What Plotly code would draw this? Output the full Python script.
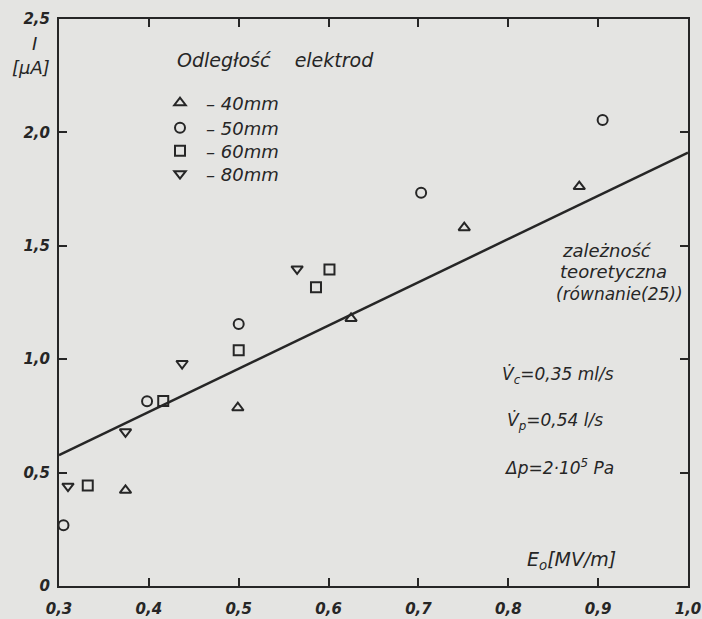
import plotly.graph_objects as go

# ---- data ----
x_40 = [0.374, 0.499, 0.625, 0.751, 0.879]
y_40 = [0.422, 0.786, 1.180, 1.580, 1.761]
x_50 = [0.305, 0.398, 0.500, 0.703, 0.905]
y_50 = [0.268, 0.815, 1.155, 1.734, 2.055]
x_60 = [0.332, 0.416, 0.500, 0.586, 0.601]
y_60 = [0.443, 0.816, 1.039, 1.317, 1.396]
x_80 = [0.310, 0.374, 0.437, 0.565]
y_80 = [0.440, 0.680, 0.981, 1.398]
x_theory = [0.3, 1.0]
y_theory = [0.577, 1.911]

series_names = ["– 40mm", "– 50mm", "– 60mm", "– 80mm"]
x_tick_vals = [0.3, 0.4, 0.5, 0.6, 0.7, 0.8, 0.9, 1.0]
x_tick_labels = ["0,3", "0,4", "0,5", "0,6", "0,7", "0,8", "0,9", "1,0"]
y_tick_vals = [0, 0.5, 1.0, 1.5, 2.0, 2.5]
y_tick_labels = ["0", "0,5", "1,0", "1,5", "2,0", "2,5"]

INK = "#262626"
BG = "#e4e4e2"
FONT = "DejaVu Sans"

W, H = 702, 619
L, R, T, B = 59, 14, 19, 33
pw, ph = W - L - R, H - T - B


def px(xp):
    return (xp - L) / pw


def py(yp):
    return (H - B - yp) / ph


fig = go.Figure()
fig.add_trace(go.Scatter(x=x_theory, y=y_theory, mode="lines",
                         line=dict(color=INK, width=2.5), showlegend=False))
symbols = ["triangle-up-open", "circle-open", "square-open", "triangle-down-open"]
legend_ids = ["legend", "legend2", "legend3", "legend4"]
for xs, ys, name, sym, lg in zip([x_40, x_50, x_60, x_80], [y_40, y_50, y_60, y_80],
                                 series_names, symbols, legend_ids):
    fig.add_trace(go.Scatter(x=xs, y=ys, mode="markers", name=name, legend=lg,
                             marker=dict(symbol=sym, size=10, color=INK,
                                         line=dict(color=INK, width=2))))

tickfont = dict(family=FONT, size=15, color=INK, weight="bold", style="italic")
fig.update_xaxes(range=[0.3, 1.0], tickvals=x_tick_vals, ticktext=x_tick_labels,
                 ticks="inside", ticklen=8, tickwidth=2, tickcolor=INK,
                 showline=True, linewidth=2, linecolor=INK, mirror="ticks",
                 showgrid=False, zeroline=False, tickfont=tickfont,
                 automargin=False, ticklabelstandoff=8)
fig.update_yaxes(range=[0, 2.5], tickvals=y_tick_vals, ticktext=y_tick_labels,
                 ticks="inside", ticklen=8, tickwidth=2, tickcolor=INK,
                 showline=True, linewidth=2, linecolor=INK, mirror="ticks",
                 showgrid=False, zeroline=False, tickfont=tickfont,
                 automargin=False, ticklabelstandoff=4)

afont = dict(family=FONT, size=14, color=INK, style="italic")
ann = []


def add(text, xp, yp, xanchor="left", size=14):
    f = dict(afont)
    f["size"] = size
    ann.append(dict(text=text, x=px(xp), y=py(yp), xref="paper", yref="paper",
                    xanchor=xanchor, yanchor="middle", showarrow=False, font=f))


add("I", 34, 43, "center", 18)
add("[μA]", 31, 67, "center", 18)
add("Odległość    elektrod", 175, 60, "left", 19)
add("zależność", 560, 250, "left", 18)
add("teoretyczna", 558, 271, "left", 18)
add("(równanie(25))", 554, 294, "left", 17)
add("V̇<sub>c</sub>=0,35 ml/s", 500, 375, "left", 17)
add("V̇<sub>p</sub>=0,54 l/s", 505, 421, "left", 17)
add("Δp=2·10<sup>5</sup> Pa", 502, 467, "left", 17)
add("E<sub>o</sub>[MV/m]", 525, 560, "left", 19)

legend_rows_y = [103, 128, 151, 174]
legend_style = dict(bgcolor="rgba(0,0,0,0)", itemwidth=42, xanchor="left", yanchor="middle",
                    font=dict(family=FONT, size=18, color=INK, style="italic"))
legends = {}
for lg, ry in zip(legend_ids, legend_rows_y):
    legends[lg] = dict(x=px(154), y=py(ry), **legend_style)

fig.update_layout(
    width=W, height=H, margin=dict(l=L, r=R, t=T, b=B),
    paper_bgcolor=BG, plot_bgcolor=BG,
    annotations=ann,
    **legends,
)

fig.write_html("out.html", config={"displayModeBar": False},
               post_script="document.body.style.margin='0';document.body.style.background='%s';" % BG)
